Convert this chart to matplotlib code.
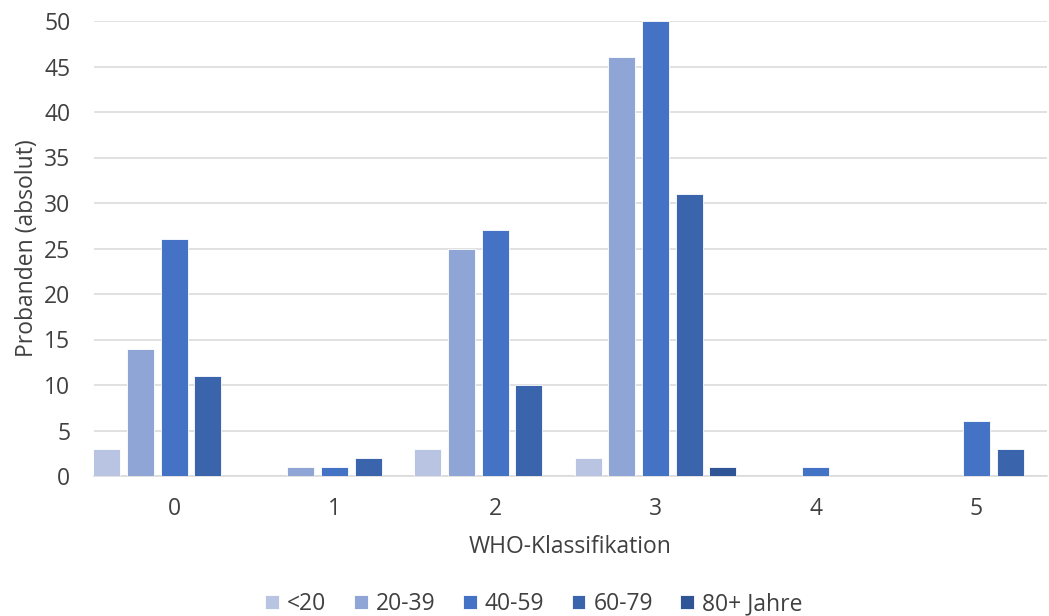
import matplotlib.pyplot as plt
import numpy as np

# WHO classes on the x axis and age groups as bar series
who_classes = ["0", "1", "2", "3", "4", "5"]
age_groups = ["<20", "20-39", "40-59", "60-79", "80+ Jahre"]

count_u20 = [3, 0, 3, 2, 0, 0]
count_20_39 = [14, 1, 25, 46, 0, 0]
count_40_59 = [26, 1, 27, 50, 1, 6]
count_60_79 = [11, 2, 10, 31, 0, 3]
count_80plus = [0, 0, 0, 1, 0, 0]

series = [count_u20, count_20_39, count_40_59, count_60_79, count_80plus]
colors = ["#B9C4E3", "#8FA5D5", "#4472C4", "#3A64AC", "#2F5597"]

plt.rcParams["font.family"] = ["Open Sans", "DejaVu Sans"]
fs = 16.5

fig = plt.figure(figsize=(10.49, 6.16), dpi=100)
ax = fig.add_axes([94 / 1049, 140 / 616, (1047 - 94) / 1049, (476 - 21) / 616])

x = np.arange(len(who_classes))
step = 0.21
width = 0.168
for i, (vals, name, col) in enumerate(zip(series, age_groups, colors)):
    ax.bar(x + (i - 2) * step, vals, width=width, color=col, label=name,
           edgecolor="white", linewidth=0.6, zorder=3)

ax.set_xlim(-0.5, 5.44)
ax.set_ylim(0, 50)
ax.set_yticks(np.arange(0, 51, 5))
ax.set_xticks(x)
ax.set_xticklabels(who_classes)
ax.grid(axis="y", color="#D9D9D9", linewidth=1.1, zorder=0)
ax.tick_params(length=0, labelsize=fs, colors="#404040")
ax.tick_params(axis="x", pad=15)
ax.tick_params(axis="y", pad=17)
for side in ["top", "right", "left"]:
    ax.spines[side].set_visible(False)
ax.spines["bottom"].set_color("#D9D9D9")
ax.spines["bottom"].set_linewidth(1.1)

ax.set_xlabel("WHO-Klassifikation", fontsize=fs, color="#404040", labelpad=10)
ax.set_ylabel("Probanden (absolut)", fontsize=fs, color="#404040", labelpad=4)

fig.legend(loc="center", bbox_to_anchor=(534 / 1049, 1 - 604 / 616), ncol=5,
           frameon=False, fontsize=fs, labelcolor="#404040",
           handlelength=0.6, handleheight=0.6, handletextpad=0.35,
           columnspacing=1.2)

fig.savefig("out.png", dpi=100)
